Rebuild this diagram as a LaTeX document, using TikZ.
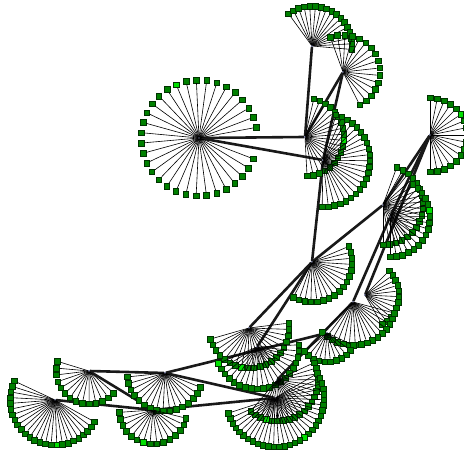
\documentclass[tikz,border=0pt]{standalone}
\definecolor{leafg}{RGB}{0,128,0}
\definecolor{leafb}{RGB}{0,225,0}
\definecolor{leafe}{RGB}{0,50,0}
\definecolor{hubc}{RGB}{10,20,90}
\tikzset{
  leaf/.style={rectangle, draw=leafe, line width=0.6pt, minimum size=5.6pt, inner sep=0pt},
  spoke/.style={draw=black, line width=0.6pt},
  hub/.style={circle, fill=hubc, inner sep=0pt, minimum size=1.6pt},
  link/.style={draw=black!90, line width=2.6pt},
}
\newcommand{\fanleaves}[6]{%
  \foreach \k in {1,...,#5}{%
    \pgfmathsetmacro{\ang}{#3+(#4-#3)*(\k-1)/(#5-1)}%
    \ifnum\k=#6 \def\lc{leafb}\else\def\lc{leafg}\fi
    \node[leaf, fill=\lc] (#1-\k) at ([shift={(\ang:#2)}]#1.center) {};
    \draw[spoke] (#1) -- (#1-\k);
  }%
}
\begin{document}
\begin{tikzpicture}[x=1pt,y=1pt]
\useasboundingbox (0,0) rectangle (464,454);
% hubs
\node[hub] (A) at (199,316) {};
\node[hub] (B) at (312,408) {};
\node[hub] (C) at (343,382) {};
\node[hub] (D) at (305,317) {};
\node[hub] (E) at (323,294) {};
\node[hub] (F) at (430,319) {};
\node[hub] (G1) at (383,249) {};
\node[hub] (G2) at (390,237) {};
\node[hub] (H) at (312,192) {};
\node[hub] (I1) at (365,159) {};
\node[hub] (I2) at (353,152) {};
\node[hub] (P) at (327,121) {};
\node[hub] (J1) at (249,126) {};
\node[hub] (J2) at (257,107) {};
\node[hub] (J3) at (277,74) {};
\node[hub] (J4) at (275,56) {};
\node[hub] (K) at (89,83) {};
\node[hub] (L) at (165,81) {};
\node[hub] (M) at (55,54) {};
\node[hub] (N) at (153,44) {};
% links
\draw[link] (A) -- (D);
\draw[link] (A) -- (E);
\draw[link] (B) -- (D);
\draw[link] (C) -- (D);
\draw[link] (C) -- (E);
\draw[link] (E) -- (H);
\draw[link] (F) -- (G1);
\draw[link] (F) -- (G2);
\draw[link] (F) -- (I1);
\draw[link] (G1) -- (H);
\draw[link] (G2) -- (I2);
\draw[link] (H) -- (J1);
\draw[link] (H) -- (J2);
\draw[link] (K) -- (L);
\draw[link] (K) -- (N);
\draw[link] (M) -- (N);
\draw[link] (N) -- (J4);
\draw[link] (L) -- (J4);
\draw[link] (L) -- (P);
\draw[link] (I2) -- (J3);
% fans
\fanleaves{A}{58}{10.5}{339}{33}{11}
\fanleaves{B}{40}{126}{-5}{17}{0}
\fanleaves{C}{37}{110}{-63}{16}{0}
\fanleaves{D}{39}{77}{-87}{19}{10}
\fanleaves{E}{47}{74}{-91}{23}{0}
\fanleaves{F}{37}{90}{-90}{17}{6}
\fanleaves{G1}{40}{70}{-90}{18}{0}
\fanleaves{G2}{40}{55}{-90}{17}{6}
\fanleaves{H}{40}{23}{-118}{17}{0}
\fanleaves{I1}{34}{45}{-60}{12}{0}
\fanleaves{I2}{43}{-15}{-135}{16}{0}
\fanleaves{P}{29}{-25}{-141}{11}{0}
\fanleaves{J1}{40}{7}{-164}{20}{13}
\fanleaves{J2}{42}{3}{-157}{20}{20}
\fanleaves{J3}{41}{25}{-130}{20}{17}
\fanleaves{J4}{49}{30}{-162}{31}{14}
\fanleaves{K}{33}{163}{318}{14}{0}
\fanleaves{L}{38}{186}{338}{16}{0}
\fanleaves{M}{45}{155}{331}{25}{17}
\fanleaves{N}{34}{184}{346}{15}{7}
\end{tikzpicture}
\end{document}
